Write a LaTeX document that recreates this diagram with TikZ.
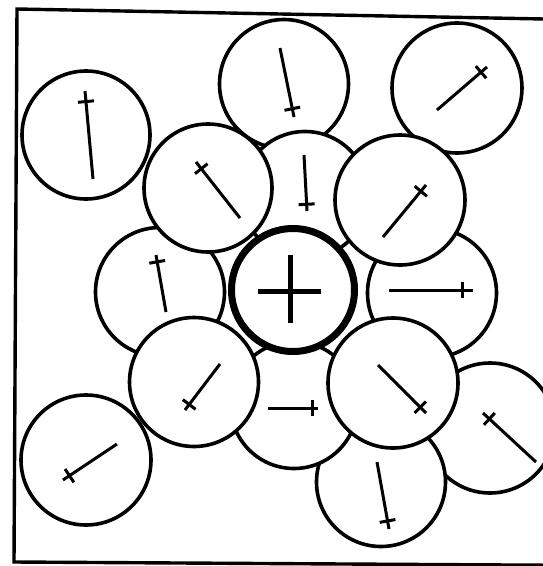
\documentclass[tikz,border=0pt]{standalone}
\usetikzlibrary{calc}
\tikzset{
  ball/.style={draw=black, fill=white, line width=3.6pt},
  centreball/.style={draw=black, fill=white, line width=7pt},
  dipline/.style={draw=black, line width=3pt},
  frameline/.style={draw=black, line width=3.4pt},
}
% dipole: line from (#1,#2) to (#3,#4), short cross bar near the second end
\newcommand{\mydip}[4]{%
  \draw[dipline] (#1,#2) -- (#3,#4);
  \draw[dipline] ($(#1,#2)!0.88!(#3,#4)!8pt!90:(#3,#4)$) -- ($(#1,#2)!0.88!(#3,#4)!8pt!-90:(#3,#4)$);
}
\begin{document}
\begin{tikzpicture}[x=1pt,y=-1pt]
\useasboundingbox (0,0) rectangle (543,566);
% frame (right side lies outside the picture)
\draw[frameline] (560,19.3) -- (17,9) -- (14,562) -- (560,565.3);

% circles, back to front
\draw[ball] (490,428) circle[radius=65pt];   % 15
\mydip{536}{462}{483}{413}
\draw[ball] (381,482) circle[radius=64.5pt]; % 14
\mydip{377}{462}{389}{529}
\draw[ball] (294,405) circle[radius=63.5pt]; % 12
\mydip{268}{408}{318}{408}
\draw[ball] (432,293) circle[radius=64.5pt]; % 9
\mydip{389}{290}{473}{290}
\draw[ball] (160,292) circle[radius=64.5pt]; % 7
\mydip{166}{312}{156}{255}
\draw[ball] (284,84) circle[radius=64.5pt];  % 2
\mydip{280}{48}{294}{117}
\draw[ball] (305,195) circle[radius=63.5pt]; % 5
\mydip{304}{155}{307}{211}
\draw[ball] (457,88) circle[radius=65pt];    % 3
\mydip{437}{110}{487}{67}
\draw[ball] (86,135) circle[radius=64pt];    % 1
\mydip{93}{179}{85}{91}
\draw[ball] (86,460) circle[radius=65pt];    % 11
\mydip{117}{444}{63}{480}
\draw[ball] (208,188) circle[radius=64pt];   % 4
\mydip{240}{218}{196}{162}
\draw[ball] (400,200) circle[radius=65pt];   % 6
\mydip{383}{237}{426}{185}
\draw[ball] (194,382) circle[radius=64.5pt]; % 10
\mydip{220}{364}{185}{410}
\draw[ball] (393,383) circle[radius=65pt];   % 13
\mydip{378}{365}{426}{413}
% central ion
\draw[centreball] (293,290) circle[radius=61.5pt]; % 8
\draw[black, line width=5pt] (258,291) -- (321,291);
\draw[black, line width=5pt] (290,255) -- (290,323);
\end{tikzpicture}
\end{document}
